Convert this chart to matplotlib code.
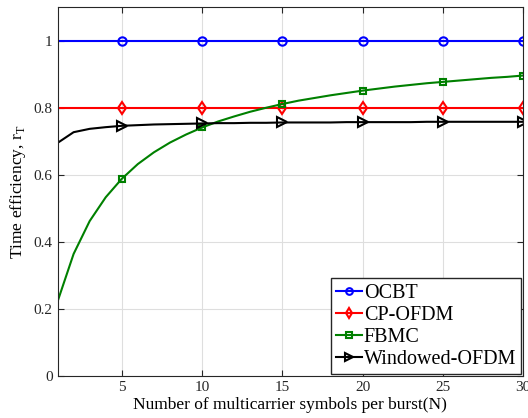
import numpy as np
import matplotlib
matplotlib.use("Agg")
import matplotlib.pyplot as plt
from matplotlib import rcParams

rcParams['font.family'] = 'Liberation Serif'
rcParams['mathtext.fontset'] = 'custom'
rcParams['mathtext.rm'] = 'Liberation Serif'

##################################################################
# Data
##################################################################
N = list(range(1, 31))
ocbt = [1.0] * 30
cp_ofdm = [0.8] * 30
fbmc = [0.222, 0.364, 0.462, 0.533, 0.588, 0.632, 0.667, 0.696, 0.720, 0.741,
        0.759, 0.774, 0.788, 0.800, 0.811, 0.821, 0.829, 0.837, 0.844, 0.851,
        0.857, 0.863, 0.868, 0.873, 0.877, 0.881, 0.885, 0.889, 0.892, 0.896]
windowed = [0.695, 0.727, 0.737, 0.742, 0.746, 0.748, 0.750, 0.751, 0.752, 0.753,
            0.754, 0.754, 0.755, 0.755, 0.756, 0.756, 0.756, 0.756, 0.757, 0.757,
            0.757, 0.757, 0.757, 0.758, 0.758, 0.758, 0.758, 0.758, 0.758, 0.758]
labels = ['OCBT', 'CP-OFDM', 'FBMC', 'Windowed-OFDM']

##################################################################
# Plot figure
##################################################################
fig = plt.figure(figsize=(5.28, 4.18), dpi=100)
ax = fig.add_axes([0.109, 0.1005, 0.882, 0.8825])

marks = list(range(4, 30, 5))
series = [(ocbt, 'b', 'o', 6), (cp_ofdm, 'r', 'd', 6), (fbmc, 'g', 's', 5), (windowed, 'k', '>', 6.5)]
for (y, c, m, ms), lab in zip(series, labels):
    ax.plot(N, y, color=c, marker=m, markevery=marks, markersize=ms,
            markerfacecolor='none', markeredgewidth=1.5, lw=1.5, label=lab)

ax.set_xlim(1, 30)
ax.set_ylim(0, 1.1)
ax.set_xticks([5, 10, 15, 20, 25, 30])
ax.set_yticks([0, 0.2, 0.4, 0.6, 0.8, 1])
ax.set_yticklabels(['0', '0.2', '0.4', '0.6', '0.8', '1'])
ax.grid(True, color='#dedede', lw=0.8)
ax.tick_params(direction='in', top=True, right=True, labelsize=11, colors='#262626', length=4)
for s in ax.spines.values():
    s.set_color('#262626')

ax.set_xlabel('Number of multicarrier symbols per burst(N)', fontsize=12.5, labelpad=2)
ax.set_ylabel(r'Time efficiency, r$_\mathrm{T}$', fontsize=12.5, labelpad=4)

leg = ax.legend(loc='lower right', fontsize=14.5, handlelength=1.3, handletextpad=0.1,
                borderpad=0.25, labelspacing=0.15, fancybox=False, framealpha=1,
                borderaxespad=0.1, markerscale=0.8)
leg.get_frame().set_edgecolor('#262626')
leg.get_frame().set_linewidth(1)

plt.savefig('out.png', dpi=100)
